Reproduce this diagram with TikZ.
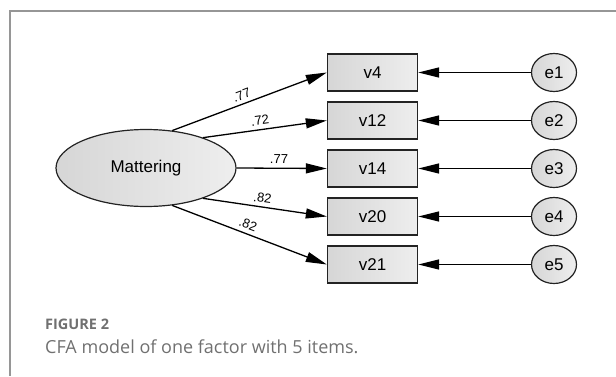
\documentclass[tikz,border=0pt]{standalone}
\usepackage{fontspec}
\setmainfont{Liberation Sans}
\newfontfamily\capfont{Open Sans}
\usetikzlibrary{arrows.meta,shapes.geometric}
\definecolor{framegray}{RGB}{150,150,150}
\definecolor{capgray}{RGB}{112,112,112}
\definecolor{shadedark}{RGB}{214,214,214}
\definecolor{shadelight}{RGB}{238,238,238}
\definecolor{edgegray}{RGB}{35,35,35}

\begin{document}
\begin{tikzpicture}[x=1pt, y=1pt,
  latent/.style={ellipse, draw=edgegray, line width=1.2pt, left color=shadedark, right color=shadelight,
    minimum width=180pt, minimum height=77pt, font=\fontsize{17}{20}\selectfont},
  item/.style={rectangle, draw=edgegray, line width=1.4pt, left color=shadedark, right color=shadelight,
    minimum width=90pt, minimum height=37pt, font=\fontsize{17}{20}\selectfont},
  resid/.style={ellipse, draw=edgegray, line width=1.2pt, left color=shadedark, right color=shadelight,
    minimum width=45pt, minimum height=38pt, inner sep=0pt, font=\fontsize{17}{20}\selectfont},
  loading/.style={-{Triangle[length=21pt,width=10pt]}, line width=1.3pt},
  coef/.style={sloped, above=3.5pt, pos=0.47, inner sep=0.3pt, font=\fontsize{13}{15}\selectfont}
]
  \useasboundingbox (0,0) rectangle (616,376);

  % frame round the figure (top and left only)
  \draw[framegray, line width=1.2pt] (616,365) -- (10,365) -- (10,0);

  % factor
  \node[latent] (mat) at (146,208) {Mattering};

  % observed items
  \node[item] (v4)  at (372.5,303.5) {v4};
  \node[item] (v12) at (372.5,255.5) {v12};
  \node[item] (v14) at (372.5,207.5) {v14};
  \node[item] (v20) at (372.5,159.5) {v20};
  \node[item] (v21) at (372.5,111.5) {v21};

  % error terms
  \node[resid] (e1) at (554,303.5) {e1};
  \node[resid] (e2) at (554,255.5) {e2};
  \node[resid] (e3) at (554,207.5) {e3};
  \node[resid] (e4) at (554,159.5) {e4};
  \node[resid] (e5) at (554,111.5) {e5};

  % factor loadings
  \draw[loading] (mat.55)  -- node[coef] {.77} (v4.west);
  \draw[loading] (mat.28)  -- node[coef] {.72} (v12.west);
  \draw[loading] (mat.0)   -- node[coef] {.77} (v14.west);
  \draw[loading] (mat.-28) -- node[coef] {.82} (v20.west);
  \draw[loading] (mat.-55) -- node[coef] {.82} (v21.west);

  % residual paths
  \draw[loading] (e1) -- (v4);
  \draw[loading] (e2) -- (v12);
  \draw[loading] (e3) -- (v14);
  \draw[loading] (e4) -- (v20);
  \draw[loading] (e5) -- (v21);

  % caption
  \node[anchor=base west, inner sep=0pt, text=capgray, font=\capfont\bfseries\fontsize{14.5}{17}\selectfont]
    (figno) at (45,46.7) {FIGURE 2};
  \node[anchor=base west, inner sep=0pt, text=capgray, font=\capfont\fontsize{18}{21}\selectfont]
    (figcap) at (45,22.7) {CFA model of one factor with 5 items.};
\end{tikzpicture}
\end{document}
